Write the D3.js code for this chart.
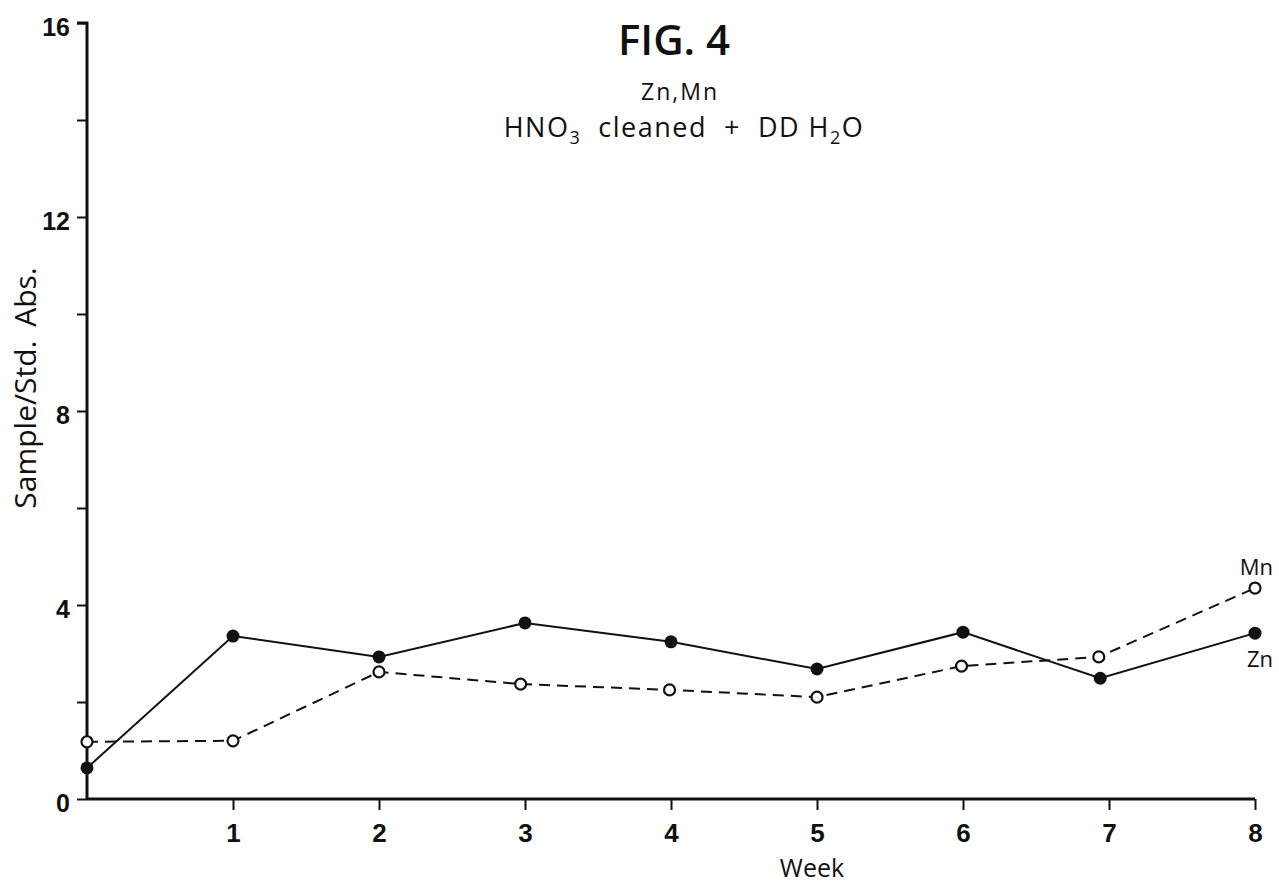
<!DOCTYPE html>
<html>
<head>
<meta charset="utf-8">
<script src="https://cdn.jsdelivr.net/npm/d3@7"></script>
<style>
	body { margin: 0; background: #fff; }
	svg { display: block; }
	.axis path, .axis line { stroke: #111; }
	.axis text { font-family: "Liberation Sans Narrow", "Liberation Sans", Arial, sans-serif; font-weight: bold; fill: #111; }
	.lbl { font-family: "Open Sans", "DejaVu Sans", sans-serif; fill: #111; }
</style>
</head>
<body>
<svg id="chart" width="1279" height="883"></svg>
<script>
	// values (week, sample/std abs.)
	var znWeeks = [0, 1, 2, 3, 4, 5, 6, 6.94, 8];
	var znValues = [0.64, 3.36, 2.93, 3.63, 3.24, 2.68, 3.44, 2.49, 3.42];
	var mnWeeks = [0, 1, 2, 2.97, 3.99, 5, 5.99, 6.93, 8];
	var mnValues = [1.18, 1.20, 2.62, 2.37, 2.25, 2.10, 2.74, 2.93, 4.35];
	var xTicks = [1, 2, 3, 4, 5, 6, 7, 8];
	var yTicks = [0, 2, 4, 6, 8, 10, 12, 14, 16];

	var svg = d3.select("#chart"),
		margin = { top: 23, right: 24, bottom: 84, left: 87 },
		width = 1279 - margin.left - margin.right,
		height = 883 - margin.top - margin.bottom;

	var x = d3.scaleLinear().domain([0, 8]).range([0, width]);
	var y = d3.scaleLinear().domain([0, 16]).range([height, 0]);

	var g = svg.append("g")
		.attr("transform", "translate(" + margin.left + "," + margin.top + ")");

	var yAxis = g.append("g")
		.attr("class", "y axis")
		.call(d3.axisLeft(y).tickValues(yTicks).tickSize(10).tickPadding(7).tickFormat(function (d) {
			return d % 4 == 0 ? d : "";
		}));
	yAxis.select(".domain").attr("stroke-width", 3).attr("d", "M-10," + y(16) + "H0V" + y(0));
	yAxis.selectAll(".tick line").attr("stroke-width", 2);
	yAxis.selectAll(".tick text").style("font-size", "25px").attr("dy", "0.5em");

	var xAxis = g.append("g")
		.attr("class", "x axis")
		.attr("transform", "translate(0," + height + ")")
		.call(d3.axisBottom(x).tickValues(xTicks).tickSize(11).tickPadding(14));
	xAxis.select(".domain").attr("stroke-width", 3).attr("d", "M0,0H" + x(8));
	xAxis.selectAll(".tick line").attr("stroke-width", 2);
	xAxis.selectAll(".tick text").style("font-size", "26px");

	var zn = znWeeks.map(function (w, i) { return [w, znValues[i]]; });
	var mn = mnWeeks.map(function (w, i) { return [w, mnValues[i]]; });

	var line = d3.line()
		.x(function (d) { return x(d[0]); })
		.y(function (d) { return y(d[1]); });

	g.append("path")
		.datum(mn)
		.attr("d", line)
		.attr("fill", "none")
		.attr("stroke", "#111")
		.attr("stroke-width", 2)
		.attr("stroke-dasharray", "11,7");

	g.append("path")
		.datum(zn)
		.attr("d", line)
		.attr("fill", "none")
		.attr("stroke", "#111")
		.attr("stroke-width", 2);

	g.selectAll(".mn")
		.data(mn)
		.enter()
		.append("circle")
		.attr("class", "mn")
		.attr("cx", function (d) { return x(d[0]); })
		.attr("cy", function (d) { return y(d[1]); })
		.attr("r", 5.5)
		.attr("fill", "#fff")
		.attr("stroke", "#111")
		.attr("stroke-width", 2.2);

	g.selectAll(".zn")
		.data(zn)
		.enter()
		.append("circle")
		.attr("class", "zn")
		.attr("cx", function (d) { return x(d[0]); })
		.attr("cy", function (d) { return y(d[1]); })
		.attr("r", 6.5)
		.attr("fill", "#111");

	// series labels
	g.append("text").attr("class", "lbl")
		.attr("x", x(8) + 18).attr("y", y(mnValues[8]) - 13)
		.attr("text-anchor", "end").style("font-size", "22px")
		.text("Mn");
	g.append("text").attr("class", "lbl")
		.attr("x", x(8) + 18).attr("y", y(znValues[8]) + 34)
		.attr("text-anchor", "end").style("font-size", "22px")
		.text("Zn");

	// titles
	svg.append("text").attr("class", "lbl")
		.attr("x", 674).attr("y", 55)
		.attr("text-anchor", "middle")
		.style("font-size", "42px").style("font-weight", 600)
		.text("FIG. 4");
	svg.append("text").attr("class", "lbl")
		.attr("x", 680).attr("y", 100)
		.attr("text-anchor", "middle")
		.style("font-size", "23px").style("letter-spacing", "2px")
		.text("Zn,Mn");

	var sub = svg.append("text").attr("class", "lbl")
		.attr("x", 684).attr("y", 137)
		.attr("text-anchor", "middle")
		.style("font-size", "27px").style("letter-spacing", "1.5px");
	sub.append("tspan").text("HNO");
	sub.append("tspan").attr("dy", 7).style("font-size", "18px").text("3");
	sub.append("tspan").attr("dy", -7).text("\u00a0\u00a0cleaned\u00a0\u00a0+\u00a0\u00a0DD H");
	sub.append("tspan").attr("dy", 7).style("font-size", "18px").text("2");
	sub.append("tspan").attr("dy", -7).text("O");

	svg.append("text").attr("class", "lbl")
		.attr("transform", "translate(36," + 388 + ") rotate(-90)")
		.attr("text-anchor", "middle")
		.style("font-size", "30px").style("word-spacing", "6px")
		.text("Sample/Std. Abs.");

	svg.append("text").attr("class", "lbl")
		.attr("x", 812).attr("y", 877)
		.attr("text-anchor", "middle")
		.style("font-size", "25px")
		.text("Week");
</script>
</body>
</html>
